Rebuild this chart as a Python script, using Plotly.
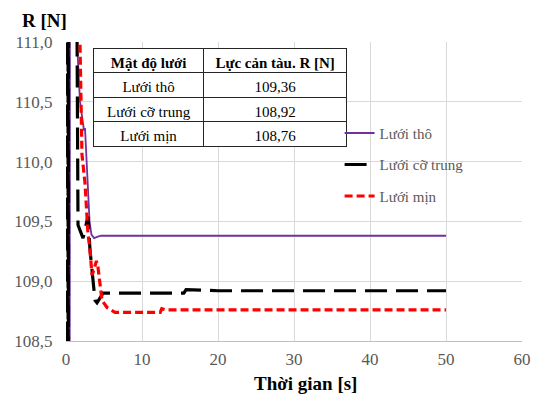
import plotly.graph_objects as go

# ---- data ----
t_tho = [0.45, 0.55, 1.3, 1.45, 1.84, 2.37, 2.5, 2.6, 2.85, 3.1, 3.35, 3.7, 4.1, 4.6, 6, 10, 20, 30, 40, 50]
r_tho = [104, 116, 112, 111.0, 110.5, 110.26, 110.28, 110.15, 109.8, 109.5, 109.39, 109.36, 109.37, 109.38,
         109.38, 109.38, 109.38, 109.38, 109.38, 109.38]

t_trung = [0.1, 0.15, 0.2, 0.25, 0.3, 0.35, 1.3, 1.45, 1.5, 1.58, 2.24, 2.89, 3.16, 3.42, 3.55, 3.82, 4.08,
           4.87, 10, 15.5, 15.8, 20, 30, 40, 50]
r_trung = [95, 125, 95, 125, 95, 125, 113, 111.0, 110.0, 109.47, 109.36, 109.54, 109.26, 109.09, 109.0, 108.84,
           108.82, 108.90, 108.90, 108.90, 108.93, 108.92, 108.92, 108.92, 108.92]

t_min = [0.4, 1.6, 1.84, 2.1, 2.5, 2.76, 2.89, 3.16, 3.42, 3.7, 4.0, 4.2, 4.47, 4.74, 5.4, 6.45, 10, 12.4,
         12.6, 13.2, 20, 30, 40, 50]
r_min = [118, 112, 111.0, 110.06, 109.82, 109.54, 109.40, 109.26, 109.05, 109.1, 109.17, 109.12, 108.98,
         108.84, 108.78, 108.74, 108.74, 108.74, 108.77, 108.76, 108.76, 108.76, 108.76, 108.76]

series_names = ["Lưới thô", "Lưới cỡ trung", "Lưới mịn"]

table_header = ["Mật độ lưới", "Lực cản tàu. R [N]"]
table_mesh = ["Lưới thô", "Lưới cỡ trung", "Lưới mịn"]
table_values = ["109,36", "108,92", "108,76"]

y_ticks = [108.5, 109.0, 109.5, 110.0, 110.5, 111.0]
x_ticks = [0, 10, 20, 30, 40, 50, 60]

FONT = "Liberation Serif"
GREY = "#595959"

fig = go.Figure()
fig.add_trace(go.Scatter(x=t_tho, y=r_tho, mode="lines", name=series_names[0], legendgroup="a",
                         line=dict(color="#7030a0", width=1.8)))
fig.add_trace(go.Scatter(x=t_trung, y=r_trung, mode="lines", name=series_names[1], legendgroup="b",
                         line=dict(color="#000000", width=3.2, dash="22px,9px")))
fig.add_trace(go.Scatter(x=t_min, y=r_min, mode="lines", name=series_names[2], legendgroup="c",
                         line=dict(color="#ff0000", width=3.2, dash="8px,4px")))

fig.add_trace(go.Table(
    domain=dict(x=[0.061, 0.618], y=[0.60, 0.977]),
    columnwidth=[110, 144],
    header=dict(values=table_header, height=24,
                fill_color="white", line=dict(color="#262626", width=1),
                font=dict(family=FONT, size=15, color="black", weight="bold"), align="center"),
    cells=dict(values=[table_mesh, table_values], height=24.5,
               fill_color="white", line=dict(color="#262626", width=1),
               font=dict(family=FONT, size=15, color="black"), align="center"),
))

fig.update_layout(
    width=536, height=394,
    margin=dict(l=66, r=14, t=42, b=53),
    paper_bgcolor="white", plot_bgcolor="white",
    separators=",.",
    font=dict(family=FONT, size=16, color=GREY),
    showlegend=True,
    legend=dict(x=0.6, y=0.75, xanchor="left", yanchor="top", bgcolor="rgba(0,0,0,0)",
                font=dict(family=FONT, size=15, color=GREY), tracegroupgap=9),
    xaxis=dict(range=[0, 60], tickvals=x_ticks, showgrid=True, gridcolor="#d9d9d9", gridwidth=1,
               showline=True, linecolor="#bfbfbf", linewidth=1, zeroline=False, automargin=False,
               ticks="outside", ticklen=3, tickcolor="rgba(0,0,0,0)",
               tickfont=dict(family=FONT, size=17, color=GREY)),
    yaxis=dict(range=[108.5, 111.0], tickvals=y_ticks, tickformat=".1f", showgrid=True,
               gridcolor="#d9d9d9", gridwidth=1, showline=False, zeroline=False, automargin=False,
               ticks="outside", ticklen=9, tickcolor="rgba(0,0,0,0)",
               tickfont=dict(family=FONT, size=17, color=GREY)),
    annotations=[
        dict(text="<b>R [N]</b>", xref="paper", yref="paper", x=-0.1, y=1.03, xanchor="left",
             yanchor="bottom", showarrow=False, font=dict(family=FONT, size=19, color="black")),
        dict(text="<b>Thời gian [s]</b>", xref="paper", yref="paper", x=0.526, y=-0.142,
             xanchor="center", yanchor="middle", showarrow=False,
             font=dict(family=FONT, size=19, color="black")),
    ],
)

fig.write_html("out.html", config={"displayModeBar": False},
               post_script="document.body.style.margin='0';")
